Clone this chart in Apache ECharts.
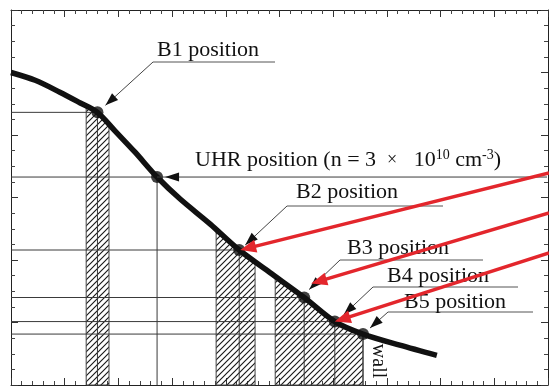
<!DOCTYPE html>
<html><head><meta charset="utf-8">
<script src="https://cdn.jsdelivr.net/npm/echarts@6/dist/echarts.min.js"></script>
<style>html,body{margin:0;padding:0;background:#fff}#chart{width:549px;height:387px}</style>
</head><body><div id="chart"></div>
<script>
// Density profile along the radius (arbitrary units)
const profileX = [0, 0.45, 0.91, 1.29, 1.61, 1.94, 2.31, 2.72, 3.15, 3.71, 4.25, 4.82, 5.46, 6.03, 6.555, 7.24, 7.93];
const profileY = [20.0, 19.5, 18.74, 18.05, 17.45, 16.25, 14.9, 13.31, 11.9, 10.3, 8.64, 7.2, 5.60, 4.06, 3.26, 2.55, 1.9];

// Marked positions on the profile
const positionNames = ['B1', 'UHR', 'B2', 'B3', 'B4', 'B5'];
const positionX = [1.61, 2.72, 4.25, 5.46, 6.03, 6.555];
const positionY = [17.45, 13.31, 8.64, 5.60, 4.06, 3.26];

// Hatched radial strips
const stripStart = [1.40, 3.82, 4.92];
const stripEnd = [1.825, 4.545, 6.555];

function profileAt(x) {
  for (let i = 1; i < profileX.length; i++) {
    if (x <= profileX[i]) {
      const t = (x - profileX[i - 1]) / (profileX[i] - profileX[i - 1]);
      return profileY[i - 1] + t * (profileY[i] - profileY[i - 1]);
    }
  }
  return profileY[profileY.length - 1];
}

// diagonal hatch tile
const tile = document.createElement('canvas');
tile.width = 6; tile.height = 6;
(function () {
  const c = tile.getContext('2d');
  c.strokeStyle = '#1a1a1a';
  c.lineWidth = 1.15;
  c.beginPath();
  c.moveTo(-1, 7); c.lineTo(7, -1);
  c.moveTo(-4, 4); c.lineTo(4, -4);
  c.moveTo(2, 10); c.lineTo(10, 2);
  c.stroke();
})();
const hatch = { image: tile, repeat: 'repeat' };

const chart = echarts.init(document.getElementById('chart'), null, { renderer: 'canvas' });

function valueAxis(pos, min, max, interval, split) {
  return {
    type: 'value', position: pos, min: min, max: max, interval: interval,
    axisLine: { show: true, onZero: false, lineStyle: { color: '#222', width: 1 } },
    axisTick: { show: true, inside: true, length: 7, lineStyle: { color: '#333' } },
    minorTick: { show: true, splitNumber: split, length: 4, lineStyle: { color: '#444' } },
    axisLabel: { show: false },
    splitLine: { show: false }
  };
}

chart.setOption({
  animation: false,
  backgroundColor: '#fff',
  grid: { left: 11, right: 1, top: 10, bottom: 2 },
  xAxis: [valueAxis('bottom', 0, 10, 1, 5), valueAxis('top', 0, 10, 1, 5)],
  yAxis: [valueAxis('left', 0, 24, 4, 4), valueAxis('right', 0, 24, 4, 4)],
  series: [
    {
      type: 'custom',
      name: 'strips',
      coordinateSystem: 'cartesian2d',
      data: stripStart.map((s, i) => [s, stripEnd[i]]),
      encode: { x: [0, 1] },
      z: 1,
      renderItem: function (params, api) {
        const x0 = api.value(0), x1 = api.value(1);
        const pts = [api.coord([x0, 0])];
        const n = 24;
        for (let i = 0; i <= n; i++) {
          const x = x0 + (x1 - x0) * i / n;
          pts.push(api.coord([x, profileAt(x)]));
        }
        pts.push(api.coord([x1, 0]));
        return {
          type: 'polygon',
          shape: { points: pts },
          style: { fill: hatch, stroke: '#444', lineWidth: 1 }
        };
      }
    },
    {
      type: 'custom',
      name: 'levels',
      coordinateSystem: 'cartesian2d',
      data: positionX.map((x, i) => [x, positionY[i]]),
      z: 2,
      renderItem: function (params, api) {
        const x = api.value(0), y = api.value(1);
        const p = api.coord([x, y]);
        const l = api.coord([0, y]);
        const b = api.coord([x, 0]);
        const st = { stroke: '#3a3a3a', lineWidth: 1 };
        return {
          type: 'group',
          children: [
            { type: 'line', shape: { x1: l[0], y1: p[1], x2: p[0], y2: p[1] }, style: st },
            { type: 'line', shape: { x1: p[0], y1: p[1], x2: p[0], y2: b[1] }, style: st }
          ]
        };
      }
    },
    {
      type: 'line',
      name: 'profile',
      data: profileX.map((x, i) => [x, profileY[i]]),
      smooth: 0.3,
      symbol: 'none',
      lineStyle: { color: '#111', width: 5.5 },
      z: 5
    },
    {
      type: 'scatter',
      name: 'positions',
      data: positionX.map((x, i) => [x, positionY[i]]),
      symbolSize: 12,
      itemStyle: { color: '#111' },
      z: 6
    }
  ]
});

// ---- annotations ----
const serif = '"Liberation Serif", "Times New Roman", serif';
const dot = {};
positionNames.forEach((n, i) => { dot[n] = chart.convertToPixel({ gridIndex: 0 }, [positionX[i], positionY[i]]); });

function arrowHead(tip, from, len, half, color) {
  const dx = tip[0] - from[0], dy = tip[1] - from[1];
  const d = Math.hypot(dx, dy);
  const ux = dx / d, uy = dy / d;
  const bx = tip[0] - ux * len, by = tip[1] - uy * len;
  return {
    type: 'polygon', z: 20,
    shape: { points: [tip, [bx - uy * half, by + ux * half], [bx + uy * half, by - ux * half]] },
    style: { fill: color }
  };
}

const graphics = [];
const notes = [
  { name: 'B1', text: 'B1 position', tx: 157, ty: 50, ly: 62, lx0: 153, lx1: 275, off: [8, -7] },
  { name: 'B2', text: 'B2 position', tx: 296, ty: 192, ly: 206, lx0: 287, lx1: 443, off: [6, -5] },
  { name: 'B3', text: 'B3 position', tx: 347, ty: 248, ly: 260, lx0: 340, lx1: 483, off: [5, -8] },
  { name: 'B4', text: 'B4 position', tx: 387, ty: 276, ly: 287, lx0: 373, lx1: 518, off: [9, -7] },
  { name: 'B5', text: 'B5 position', tx: 404, ty: 302, ly: 312, lx0: 388, lx1: 533, off: [7, -6] }
];
notes.forEach(nt => {
  const p = dot[nt.name];
  const tip = [p[0] + nt.off[0], p[1] + nt.off[1]];
  const start = [nt.lx0, nt.ly];
  graphics.push({ type: 'line', z: 15, shape: { x1: nt.lx0, y1: nt.ly, x2: nt.lx1, y2: nt.ly }, style: { stroke: '#555', lineWidth: 1 } });
  graphics.push({ type: 'line', z: 15, shape: { x1: start[0], y1: start[1], x2: tip[0], y2: tip[1] }, style: { stroke: '#444', lineWidth: 1 } });
  graphics.push(arrowHead(tip, start, 13, 4.5, '#111'));
  graphics.push({ type: 'text', z: 16, x: nt.tx, y: nt.ty, style: { text: nt.text, font: '22px ' + serif, fill: '#111', align: 'left', verticalAlign: 'middle' } });
});

// UHR label sits on its own level line
const uhr = dot['UHR'];
graphics.push({ type: 'line', z: 15, shape: { x1: uhr[0], y1: uhr[1], x2: 547, y2: uhr[1] }, style: { stroke: '#3a3a3a', lineWidth: 1 } });
graphics.push(arrowHead([uhr[0] + 8, uhr[1]], [uhr[0] + 30, uhr[1]], 14, 4.5, '#111'));
graphics.push({
  type: 'text', z: 16, x: 195, y: 160,
  style: {
    text: 'UHR position (n = 3  {x|×}   10{sup|10} cm{sup|-3})',
    font: '22px ' + serif, fill: '#111', align: 'left', verticalAlign: 'middle',
    rich: {
      x: { fontSize: 18, fontFamily: serif, fill: '#111' },
      sup: { fontSize: 14, fontFamily: serif, fill: '#111', verticalAlign: 'top', padding: [0, 0, 9, 0] }
    }
  }
});

// wall marker
const b5 = dot['B5'];
graphics.push({
  type: 'text', z: 16, x: b5[0] + 15, y: b5[1] + 27, rotation: -Math.PI / 2,
  style: { text: 'wall', font: '20px ' + serif, fill: '#111', align: 'center', verticalAlign: 'middle' }
});

// red pointers from the right edge
const redTargets = [
  { name: 'B2', from: [549, 173], off: [1, 0] },
  { name: 'B3', from: [549, 213], off: [7, -14] },
  { name: 'B4', from: [549, 253], off: [0, 0] }
];
redTargets.forEach(r => {
  const p = dot[r.name];
  const tip = [p[0] + r.off[0], p[1] + r.off[1]];
  const dx = tip[0] - r.from[0], dy = tip[1] - r.from[1];
  const d = Math.hypot(dx, dy);
  const end = [tip[0] - dx / d * 12, tip[1] - dy / d * 12];
  graphics.push({ type: 'line', z: 18, shape: { x1: r.from[0], y1: r.from[1], x2: end[0], y2: end[1] }, style: { stroke: '#e3262c', lineWidth: 3.5 } });
  graphics.push(arrowHead(tip, r.from, 16, 6.5, '#e3262c'));
});

chart.setOption({ graphic: graphics });
</script>
</body></html>
